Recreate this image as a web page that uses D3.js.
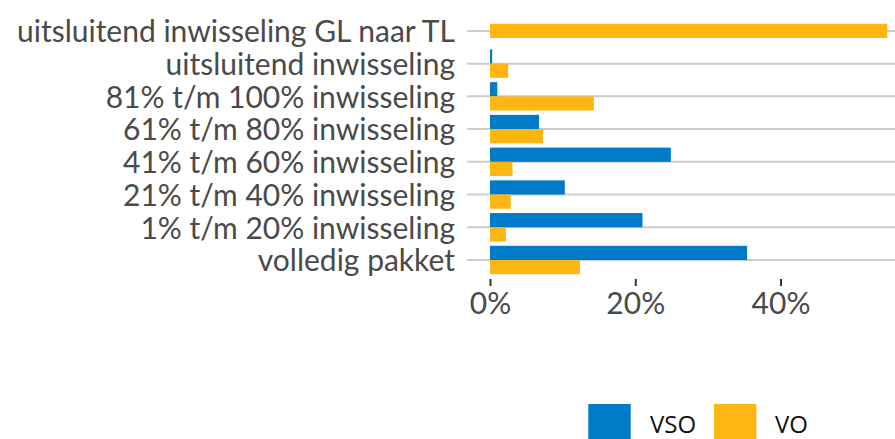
<!DOCTYPE html>
<html>
<head>
<meta charset="utf-8">
<script src="https://cdn.jsdelivr.net/npm/d3@7"></script>
<style>
  html, body { margin: 0; padding: 0; background: #fff; overflow: hidden; }
  svg { display: block; }
</style>
</head>
<body>
<svg id="chart" width="895" height="439"></svg>
<script>
const categories = [
  "uitsluitend inwisseling GL naar TL",
  "uitsluitend inwisseling",
  "81% t/m 100% inwisseling",
  "61% t/m 80% inwisseling",
  "41% t/m 60% inwisseling",
  "21% t/m 40% inwisseling",
  "1% t/m 20% inwisseling",
  "volledig pakket"
];
const seriesNames = ["VSO", "VO"];
const vsoValues = [null, 0.3, 1.0, 6.75, 24.9, 10.3, 21.0, 35.4];
const voValues  = [54.7, 2.5, 14.3, 7.3, 3.1, 2.85, 2.2, 12.4];
const xTicks = [0, 20, 40];
const xTickLabels = ["0%", "20%", "40%"];
const colors = ["#007BC7", "#FFB612"];

const svg = d3.select("#chart");
const labelFont = "Lato, 'Open Sans', sans-serif";
const textColor = "#4a4a4a";

const x = d3.scaleLinear().domain([0, 40]).range([490, 780.5]);
const y = d3.scalePoint().domain(categories).range([30.9, 260.0]);
const barH = 14.2;

// gridlines
svg.append("g").selectAll("line").data(categories).join("line")
  .attr("x1", 467).attr("x2", 895)
  .attr("y1", d => y(d)).attr("y2", d => y(d))
  .attr("stroke", "#cccccc").attr("stroke-width", 2);

// bars
const rows = categories.map((c, i) => ({ c, vso: vsoValues[i], vo: voValues[i] }));
const gBars = svg.append("g");
rows.forEach(r => {
  const cy = y(r.c);
  if (r.vso == null) {
    gBars.append("rect")
      .attr("x", x(0)).attr("width", x(r.vo) - x(0))
      .attr("y", cy - barH / 2).attr("height", barH)
      .attr("fill", colors[1]);
  } else {
    gBars.append("rect")
      .attr("x", x(0)).attr("width", x(r.vso) - x(0))
      .attr("y", cy - barH).attr("height", barH)
      .attr("fill", colors[0]);
    gBars.append("rect")
      .attr("x", x(0)).attr("width", x(r.vo) - x(0))
      .attr("y", cy).attr("height", barH)
      .attr("fill", colors[1]);
  }
});

// category labels, fit font size to reference width
const labels = svg.append("g").selectAll("text").data(categories).join("text")
  .attr("x", 455)
  .attr("y", d => y(d) + 11.3)
  .attr("text-anchor", "end")
  .attr("font-family", labelFont)
  .attr("font-size", 27)
  .attr("fill", textColor)
  .text(d => d);
const w0 = labels.nodes()[0].getComputedTextLength();
const fs = Math.max(20, Math.min(30, 27 * 445 / w0));
labels.attr("font-size", fs);

// x axis ticks
const xAxis = d3.axisBottom(x).tickValues(xTicks).tickSize(7)
  .tickFormat((d, i) => xTickLabels[i]);
const gx = svg.append("g").attr("transform", "translate(0,279)").call(xAxis);
gx.select(".domain").remove();
gx.selectAll(".tick line").attr("stroke", "#333").attr("stroke-width", 2);
gx.selectAll(".tick text")
  .attr("y", 35).attr("dy", 0)
  .attr("font-family", labelFont).attr("font-size", fs)
  .attr("fill", textColor);

// legend
const legendX = [588.3, 714];
const legendTextX = [650, 775];
const lg = svg.append("g");
seriesNames.forEach((s, i) => {
  lg.append("rect").attr("x", legendX[i]).attr("y", 404)
    .attr("width", 42.4).attr("height", 42.4).attr("fill", colors[i]);
  lg.append("text").attr("x", legendTextX[i]).attr("y", 432.5)
    .attr("font-family", "'Open Sans', sans-serif").attr("font-size", 24)
    .attr("fill", "#111").text(s);
});
</script>
</body>
</html>
